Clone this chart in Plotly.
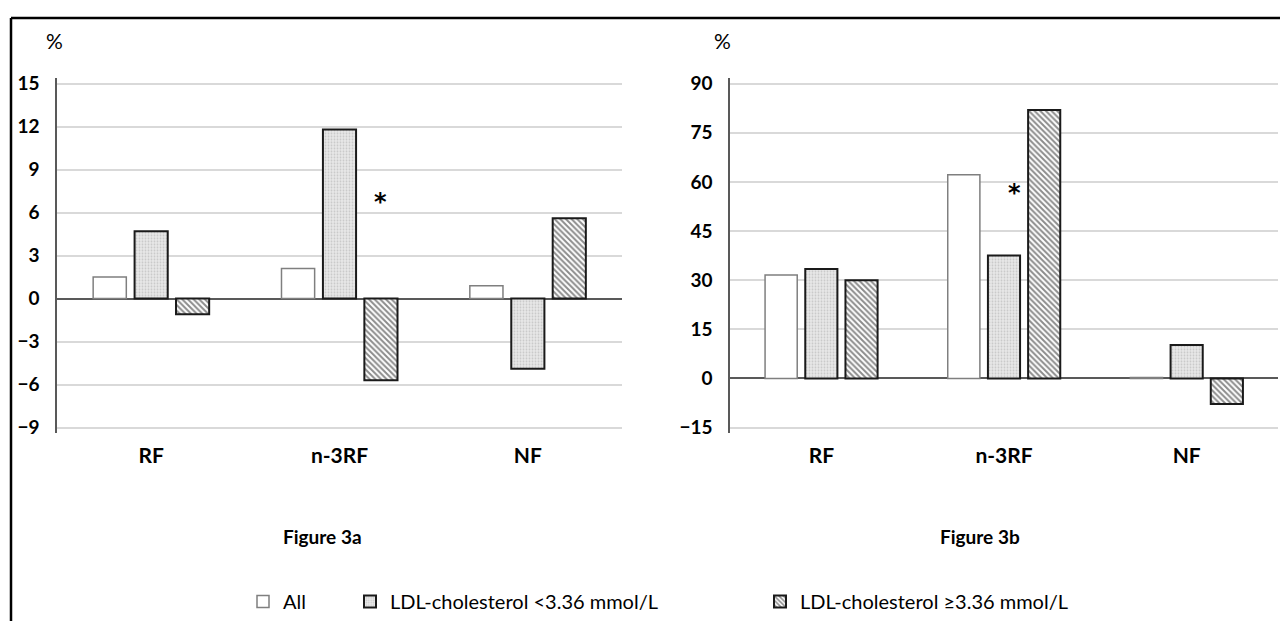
import plotly.graph_objects as go

categories = ["RF", "n-3RF", "NF"]
series_names = ["All", "LDL-cholesterol <3.36 mmol/L", "LDL-cholesterol ≥3.36 mmol/L"]

fig3a_all = [1.5, 2.1, 0.9]
fig3a_low = [4.7, 11.8, -4.9]
fig3a_high = [-1.1, -5.7, 5.6]

fig3b_all = [31.6, 62.2, 0.3]
fig3b_low = [33.4, 37.5, 10.2]
fig3b_high = [30.0, 82.0, -7.8]

fig3a_ticks = [-9, -6, -3, 0, 3, 6, 9, 12, 15]
fig3b_ticks = [-15, 0, 15, 30, 45, 60, 75, 90]

# page body has an 8px margin; figure fills the rest of the 1288x626 window
OFF = 8
W, H = 1288 - OFF, 626 - OFF
FONT = "Lato"


def px(x):
    return (x - OFF) / W


def py(y):
    return 1 - (y - OFF) / H


styles = [
    dict(color="white", line=dict(color="#7f7f7f", width=1.5)),
    dict(color="#dcdcdc", line=dict(color="#1a1a1a", width=2),
         pattern=dict(shape=".", fgcolor="#a6a6a6", bgcolor="#e8e8e8", size=3, solidity=0.3)),
    dict(color="white", line=dict(color="#1a1a1a", width=2),
         pattern=dict(shape="\\", fgcolor="#1a1a1a", bgcolor="white", size=4, solidity=0.5)),
]
legends = ["legend", "legend2", "legend3"]

fig = go.Figure()
for i, (name, vals) in enumerate(zip(series_names, [fig3a_all, fig3a_low, fig3a_high])):
    fig.add_trace(go.Bar(x=categories, y=vals, name=name, marker=styles[i],
                         xaxis="x", yaxis="y", legend=legends[i], showlegend=True))
for i, (name, vals) in enumerate(zip(series_names, [fig3b_all, fig3b_low, fig3b_high])):
    fig.add_trace(go.Bar(x=categories, y=vals, name=name, marker=styles[i],
                         xaxis="x2", yaxis="y2", showlegend=False))

ydom = [py(435), py(73)]
axis_common = dict(showgrid=True, gridcolor="#d9d9d9", gridwidth=1.5,
                   zeroline=True, zerolinecolor="#595959", zerolinewidth=2,
                   showline=True, linecolor="#595959", linewidth=1.5,
                   ticks="", ticklabelstandoff=12,
                   tickfont=dict(family=FONT, size=19, color="black", weight="bold"))
xcommon = dict(showgrid=False, zeroline=False, showline=False, ticks="",
               ticklabelstandoff=8,
               tickfont=dict(family=FONT, size=21, color="black", weight="bold"))

fig.update_layout(
    width=W, height=H,
    margin=dict(l=0, r=0, t=0, b=0),
    paper_bgcolor="white", plot_bgcolor="white",
    barmode="group", bargap=0.34, bargroupgap=0.2,
    xaxis=dict(domain=[px(57), px(622)], anchor="y", **xcommon),
    xaxis2=dict(domain=[px(730), px(1278)], anchor="y2", **xcommon),
    yaxis=dict(domain=ydom, anchor="x", range=[-9.41, 15.41], tickvals=fig3a_ticks, **axis_common),
    yaxis2=dict(domain=ydom, anchor="x2", range=[-16.8, 91.8], tickvals=fig3b_ticks, **axis_common),
    font=dict(family=FONT, color="black"),
)

# legends sit flush with the bottom edge so they never push the plot margins
leg_common = dict(orientation="h", yanchor="bottom", xanchor="left", y=0,
                  font=dict(family=FONT, size=20, color="black"),
                  bgcolor="rgba(0,0,0,0)", itemclick=False)
fig.update_layout(
    legend=dict(x=px(243), **leg_common),
    legend2=dict(x=px(350), **leg_common),
    legend3=dict(x=px(760), **leg_common),
)

ann_common = dict(xref="paper", yref="paper", showarrow=False, xanchor="center", yanchor="middle")
annotations = [
    dict(text="%", x=px(54), y=py(35), font=dict(family=FONT, size=21), **ann_common),
    dict(text="%", x=px(722), y=py(35), font=dict(family=FONT, size=21), **ann_common),
    dict(text="Figure 3a", x=px(322), y=py(540), font=dict(family=FONT, size=19, weight="bold"), **ann_common),
    dict(text="Figure 3b", x=px(980), y=py(540), font=dict(family=FONT, size=19, weight="bold"), **ann_common),
    dict(text="*", x=1.22, y=6.9, xref="x", yref="y", showarrow=False, yshift=-2,
         xanchor="center", yanchor="middle",
         font=dict(family="DejaVu Sans", size=24, weight="bold")),
    dict(text="*", x=1.06, y=57.3, xref="x2", yref="y2", showarrow=False, yshift=-2,
         xanchor="center", yanchor="middle",
         font=dict(family="DejaVu Sans", size=24, weight="bold")),
]
fig.update_layout(annotations=annotations)

fig.update_layout(shapes=[
    dict(type="line", xref="paper", yref="paper", x0=px(11), x1=1, y0=py(12), y1=py(12),
         line=dict(color="black", width=2.5)),
    dict(type="line", xref="paper", yref="paper", x0=px(11), x1=px(11), y0=0, y1=py(12),
         line=dict(color="black", width=2.5)),
])

fig.write_html("out.html")
